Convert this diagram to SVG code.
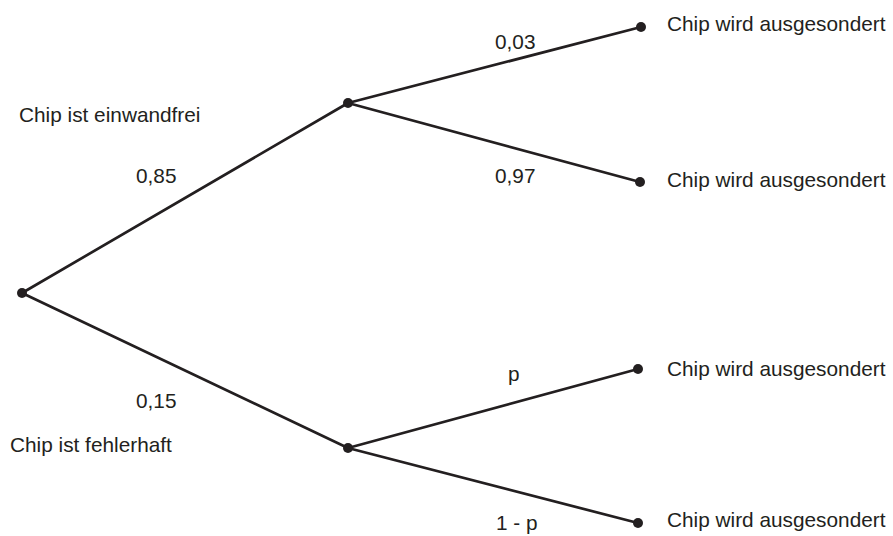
<svg xmlns="http://www.w3.org/2000/svg" width="893" height="536" viewBox="0 0 893 536">
  <style>
    .edge { stroke: #231f20; stroke-width: 2.7; fill: none; stroke-linecap: round; }
    .dot { fill: #231f20; }
    .lbl { font-family: "Liberation Sans", Arial, sans-serif; font-size: 20.8px; fill: #231f20; }
  </style>
  <rect width="893" height="536" fill="#ffffff"/>

  <!-- branches -->
  <g id="connectors">
    <line class="edge" x1="22" y1="293" x2="348" y2="103"/>
    <line class="edge" x1="22" y1="293" x2="348" y2="448"/>
    <line class="edge" x1="348" y1="103" x2="641" y2="27"/>
    <line class="edge" x1="348" y1="103" x2="640" y2="182"/>
    <line class="edge" x1="348" y1="448" x2="638" y2="369"/>
    <line class="edge" x1="348" y1="448" x2="638" y2="523"/>
  </g>

  <!-- branch probabilities -->
  <g id="edge-labels">
    <text class="lbl" x="136" y="183">0,85</text>
    <text class="lbl" x="136" y="408">0,15</text>
    <text class="lbl" x="495" y="49">0,03</text>
    <text class="lbl" x="495" y="183">0,97</text>
    <text class="lbl" x="508" y="381">p</text>
    <text class="lbl" x="496" y="530">1 - p</text>
  </g>

  <g id="root">
    <circle class="dot" cx="22" cy="293" r="5"/>
  </g>

  <g id="ok">
    <circle class="dot" cx="348" cy="103" r="5"/>
    <text class="lbl" x="19" y="122">Chip ist einwandfrei</text>
  </g>

  <g id="defect">
    <circle class="dot" cx="348" cy="448" r="5"/>
    <text class="lbl" x="10" y="452">Chip ist fehlerhaft</text>
  </g>

  <g id="leaf1">
    <circle class="dot" cx="641" cy="27" r="5"/>
    <text class="lbl" x="667" y="31">Chip wird ausgesondert</text>
  </g>

  <g id="leaf2">
    <circle class="dot" cx="640" cy="182" r="5"/>
    <text class="lbl" x="667" y="187">Chip wird ausgesondert</text>
  </g>

  <g id="leaf3">
    <circle class="dot" cx="638" cy="369" r="5"/>
    <text class="lbl" x="667" y="376">Chip wird ausgesondert</text>
  </g>

  <g id="leaf4">
    <circle class="dot" cx="638" cy="523" r="5"/>
    <text class="lbl" x="667" y="527">Chip wird ausgesondert</text>
  </g>
</svg>
